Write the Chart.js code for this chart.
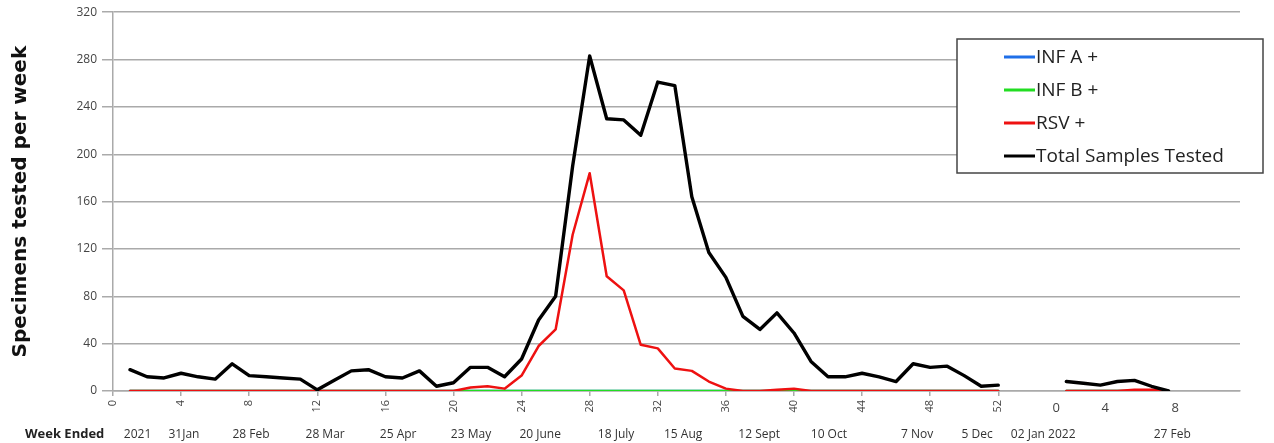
<!DOCTYPE html>
<html>
<head>
<meta charset="utf-8">
<script src="https://cdn.jsdelivr.net/npm/chart.js@4/dist/chart.umd.min.js"></script>
<style>
html, body { margin: 0; padding: 0; background: #fff; }
#wrap { width: 1274px; height: 443px; }
</style>
</head>
<body>
<div id="wrap"><canvas id="chart"></canvas></div>
<script>
// weeks of each year that have data
var weeks2021 = [1,2,3,4,5,6,7,8,9,10,11,12,13,14,15,16,17,18,19,20,21,22,23,24,25,26,
                 27,28,29,30,31,32,33,34,35,36,37,38,39,40,41,42,43,44,45,46,47,48,49,50,51,52];
var weeks2022 = [1,2,3,4,5,6,7];

// series values
var infA2021  = [0,0,0,0,0,0,0,0,0,0,0,0,0,0,0,0,0,0,0,0,0,0,0,0,0,0,
                 0,0,0,0,0,0,0,0,0,0,0,0,0,0,0,0,0,0,0,0,0,0,0,0,0,0];
var infB2021  = [0,0,0,0,0,0,0,0,0,0,0,0,0,0,0,0,0,0,0,0,0,0,0,0,0,0,
                 0,0,0,0,0,0,0,0,0,0,0,0,0,0,0,0,0,0,0,0,0,0,0,0,0,0];
var rsv2021   = [0,0,0,0,0,0,0,0,0,0,0,0,0,0,0,0,0,0,0,0,3,4,2,13,38,52,
                 132,184,97,85,39,36,19,17,8,2,0,0,1,2,0,0,0,0,0,0,0,0,0,0,0,0];
var total2021 = [18,12,11,15,12,10,23,13,12,11,10,1,9,17,18,12,11,17,4,7,20,20,12,27,60,80,
                 190,283,230,229,216,261,258,164,117,96,63,52,66,49,25,12,12,15,12,8,23,20,21,13,4,5];

var infA2022  = [0,0,0,0,0,0,0];
var infB2022  = [0,0,0,0,0,0,0];
var rsv2022   = [0,0,0,0,1,1,0];
var total2022 = [8,6.5,5,8,9,4,0];

// tick labels
var weekTicks2021 = [0,4,8,12,16,20,24,28,32,36,40,44,48,52];
var weekTicks2022 = ['0','4','8'];
var dateLabels = ['2021','31Jan','28 Feb','28 Mar','25 Apr','23 May','20 June','18 July',
                  '15 Aug','12 Sept','10 Oct','7 Nov','5 Dec','02 Jan 2022','27 Feb'];

// layout: where things sit on the week axis
var OFFSET_2022 = 55;
var X_MAX = 66.2;
var dateLabelPos = [1.44,4.17,8.11,12.46,16.75,21.03,25.09,29.55,33.49,37.96,42.05,47.24,50.76,54.64,62.22];
var week2022LabelPos = [55.41,58.28,62.4];

function points(w2021, v2021, w2022, v2022) {
    var out = [];
    for (var i = 0; i < v2021.length; i++) out.push({x: w2021[i], y: v2021[i]});
    out.push({x: 53.5, y: null}); // break between years
    for (var j = 0; j < v2022.length; j++) out.push({x: OFFSET_2022 + w2022[j], y: v2022[j]});
    return out;
}

var FONT = '"Open Sans", Lato, sans-serif';

var extras = {
    id: 'extras',
    afterDraw: function(chart) {
        var ctx = chart.ctx;
        var xs = chart.scales.x;
        ctx.save();

        // 2022 week numbers, written upright
        ctx.font = '13px ' + FONT;
        ctx.fillStyle = '#444';
        ctx.textAlign = 'center';
        ctx.textBaseline = 'middle';
        for (var i = 0; i < weekTicks2022.length; i++) {
            ctx.fillText(weekTicks2022[i], xs.getPixelForValue(week2022LabelPos[i]), xs.top + 17);
        }

        // "Week Ended"
        ctx.font = 'bold 13px ' + FONT;
        ctx.fillStyle = '#222';
        ctx.textAlign = 'left';
        ctx.fillText('Week Ended', 25, 434);

        // legend box
        var bx = 957, by = 39, bw = 306, bh = 134;
        ctx.fillStyle = '#fff';
        ctx.fillRect(bx, by, bw, bh);
        ctx.strokeStyle = '#444';
        ctx.lineWidth = 1.5;
        ctx.strokeRect(bx, by, bw, bh);

        ctx.font = '19px ' + FONT;
        ctx.textBaseline = 'middle';
        var ds = chart.data.datasets;
        for (var k = 0; k < ds.length; k++) {
            var yy = by + 18 + k * 33;
            ctx.strokeStyle = ds[k].borderColor;
            ctx.lineWidth = 3;
            ctx.beginPath();
            ctx.moveTo(1004, yy);
            ctx.lineTo(1035, yy);
            ctx.stroke();
            ctx.fillStyle = '#222';
            ctx.fillText(ds[k].label, 1036, yy + 1);
        }
        ctx.restore();
    }
};

var chart = new Chart(document.getElementById('chart'), {
    type: 'line',
    data: {
        datasets: [
            {label: 'INF A +', data: points(weeks2021, infA2021, weeks2022, infA2022),
             borderColor: '#1f6fe8', borderWidth: 2.5, order: 3},
            {label: 'INF B +', data: points(weeks2021, infB2021, weeks2022, infB2022),
             borderColor: '#22dd22', borderWidth: 2.5, order: 2},
            {label: 'RSV +', data: points(weeks2021, rsv2021, weeks2022, rsv2022),
             borderColor: '#ee1111', borderWidth: 2.5, order: 1},
            {label: 'Total Samples Tested', data: points(weeks2021, total2021, weeks2022, total2022),
             borderColor: '#000', borderWidth: 3.4, order: 0}
        ]
    },
    options: {
        responsive: true,
        maintainAspectRatio: false,
        animation: false,
        layout: {padding: {top: 11, right: 34, left: 0, bottom: 0}},
        elements: {
            point: {radius: 0, hoverRadius: 0},
            line: {tension: 0, borderJoinStyle: 'round', borderCapStyle: 'round', fill: false}
        },
        plugins: {
            legend: {display: false},
            tooltip: {enabled: false}
        },
        scales: {
            x: {
                type: 'linear',
                position: 'bottom',
                min: 0,
                max: X_MAX,
                weight: 1,
                afterBuildTicks: function(scale) {
                    scale.ticks = weekTicks2021.map(function(v) { return {value: v}; });
                },
                afterFit: function(scale) { scale.height = 30; },
                grid: {drawOnChartArea: false, drawTicks: true, tickLength: 5, color: '#aaa', lineWidth: 1.5},
                border: {color: '#aaa', width: 1.5},
                ticks: {
                    autoSkip: false,
                    minRotation: 90,
                    maxRotation: 90,
                    padding: 4,
                    color: '#444',
                    font: {family: FONT, size: 11},
                    callback: function(v) { return String(v); }
                }
            },
            xDate: {
                type: 'linear',
                position: 'bottom',
                min: 0,
                max: X_MAX,
                weight: 2,
                afterBuildTicks: function(scale) {
                    scale.ticks = dateLabelPos.map(function(v) { return {value: v}; });
                },
                afterFit: function(scale) { scale.height = 22; },
                grid: {display: false, drawTicks: false},
                border: {display: false},
                ticks: {
                    autoSkip: false,
                    maxRotation: 0,
                    minRotation: 0,
                    padding: 6,
                    color: '#333',
                    font: {family: FONT, size: 12},
                    callback: function(v, i) { return dateLabels[i]; }
                }
            },
            y: {
                min: 0,
                max: 320,
                afterFit: function(scale) { scale.width = 113; },
                grid: {color: '#aaa', lineWidth: 1.5, tickLength: 11},
                border: {color: '#aaa', width: 1.5},
                ticks: {
                    stepSize: 40,
                    padding: 5,
                    color: '#444',
                    font: {family: FONT, size: 12}
                },
                title: {
                    display: true,
                    text: 'Specimens tested per week',
                    color: '#111',
                    padding: {top: 9, bottom: 0},
                    font: {family: '"DejaVu Sans", sans-serif', size: 20, weight: 'bold'}
                }
            }
        }
    },
    plugins: [extras]
});
</script>
</body>
</html>
